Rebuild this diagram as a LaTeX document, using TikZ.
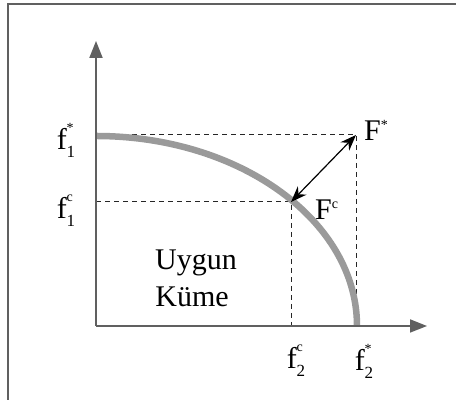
\documentclass[tikz,border=0pt]{standalone}
\usepackage{fontspec}
\setmainfont{Liberation Serif}
\usetikzlibrary{arrows.meta}
\definecolor{axisgray}{HTML}{606060}
\definecolor{curvegray}{HTML}{9A9A9A}
\newcommand{\objlab}[3]{#1\rlap{\raisebox{17pt}{\fontsize{14}{14}\selectfont #3}}\raisebox{-8pt}{\fontsize{17}{17}\selectfont #2}}
\tikzset{
  axis/.style={draw=axisgray, line width=1.8pt, -{Triangle[length=17pt,width=13pt]}},
  guide/.style={draw=black!85, line width=1pt, dash pattern=on 5pt off 4pt},
  lbl/.style={font=\fontsize{30}{32}\selectfont, inner sep=0pt}
}
\begin{document}
\begin{tikzpicture}[x=1pt, y=1pt]
        \useasboundingbox (0,0) rectangle (456,403);

        % Frame
        \draw[axisgray, line width=1.2pt] (8,3) -- (8,399) -- (456,399);

        % Define axis points
        \coordinate (O) at (96, 77);        % Origin
        \coordinate (Ytop) at (96, 362);    % Top of f1 axis
        \coordinate (Xend) at (427, 77);    % End of f2 axis

        % Define ideal and compromise points
        \coordinate (Fs) at (356, 268);     % Ideal point
        \coordinate (Fc) at (291, 201);     % Compromise point
        \coordinate (A1) at (96, 268);      % f1* on axis
        \coordinate (A2) at (96, 201);      % f1c on axis
        \coordinate (B1) at (291, 77);      % f2c on axis
        \coordinate (B2) at (356, 77);      % f2* on axis

        % Draw dashed guide lines
        \draw[guide] (A1) -- (Fs) -- (B2);
        \draw[guide] (A2) -- (Fc) -- (B1);

        % Draw Pareto front
        \draw[curvegray, line width=6.5pt] (96,267) arc[start angle=90, end angle=0, x radius=261, y radius=190];

        % Draw axes
        \draw[axis] (O) -- (Ytop);
        \draw[axis] (O) -- (Xend);

        % Draw distance arrow
        \draw[line width=1.2pt, {Stealth[length=16pt,width=12pt]}-{Stealth[length=16pt,width=12pt]}] (Fc) -- (Fs);

        % Label axis values
        \node[lbl] (f1s) at (66, 263) {\objlab{f}{1}{*}};
        \node[lbl] (f1c) at (66, 192) {\objlab{f}{1}{c}};
        \node[lbl] (f2c) at (296, 42) {\objlab{f}{2}{c}};
        \node[lbl] (f2s) at (364, 42) {\objlab{f}{2}{*}};

        % Label points and region
        \node[lbl, right] (Fslbl) at (364, 273) {F\raisebox{11pt}{\fontsize{14}{14}\selectfont *}};
        \node[lbl, right] (Fclbl) at (315, 193) {F\raisebox{11pt}{\fontsize{14}{14}\selectfont c}};
        \node[lbl] (uy) at (196, 140) {Uygun};
        \node[lbl] (ku) at (192, 106) {Küme};

    \end{tikzpicture}
\end{document}
